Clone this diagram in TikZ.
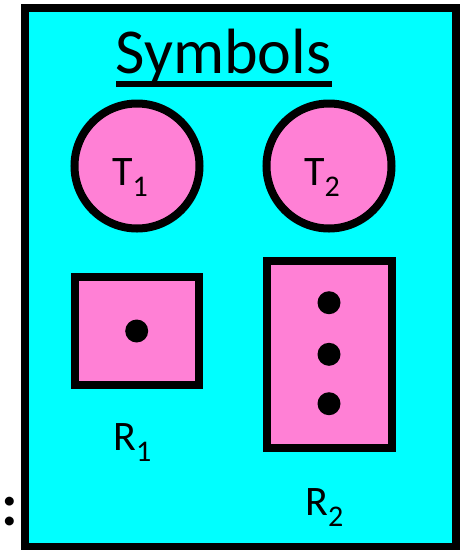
\documentclass[tikz,border=0pt]{standalone}
\usepackage{fontspec}
\setmainfont{Carlito}
\definecolor{bgcyan}{HTML}{00FFFF}
\definecolor{pinkfill}{HTML}{FF80D5}
\begin{document}
\begin{tikzpicture}[x=1pt,y=-1pt,
  frame/.style={draw=black,line width=8pt,fill=bgcyan},
  tcircle/.style={circle,draw=black,line width=8pt,fill=pinkfill,minimum size=125pt,inner sep=0pt},
  rbox/.style={draw=black,line width=8pt,fill=pinkfill},
  blackdot/.style={circle,fill=black,minimum size=23pt,inner sep=0pt},
  lbl/.style={font=\fontsize{42}{42}\selectfont,inner sep=0pt,anchor=base west}]
\useasboundingbox (0,0) rectangle (462,550);
\fill[white] (0,0) rectangle (462,550);
\draw[frame] (24.5,8) rectangle (456,547);
\node[anchor=base,inner sep=0pt,font=\fontsize{64}{64}\selectfont] (title) at (223.5,73) {Symbols};
\fill[black] (116,80.5) rectangle (332,86.5);
\node[tcircle] (t1) at (137,166) {};
\node[tcircle] (t2) at (329,166) {};
\node[lbl] (t1l) at (112,185) {T\raisebox{-11pt}{\fontsize{30}{30}\selectfont 1}};
\node[lbl] (t2l) at (304,185) {T\raisebox{-11pt}{\fontsize{30}{30}\selectfont 2}};
\draw[rbox] (74.7,276.7) rectangle (199.3,385.3);
\node[blackdot] (d0) at (136.7,331) {};
\draw[rbox] (266.7,260.7) rectangle (391.7,447.7);
\node[blackdot] (d1) at (329,302.7) {};
\node[blackdot] (d2) at (329,354.3) {};
\node[blackdot] (d3) at (329,403.7) {};
\node[lbl] (r1) at (113,450.7) {R\raisebox{-11pt}{\fontsize{30}{30}\selectfont 1}};
\node[lbl] (r2) at (305,515.7) {R\raisebox{-11pt}{\fontsize{30}{30}\selectfont 2}};
\node[anchor=base west,inner sep=0pt,font=\bfseries\fontsize{60}{60}\selectfont] (colon) at (1,525) {:};
\end{tikzpicture}
\end{document}
